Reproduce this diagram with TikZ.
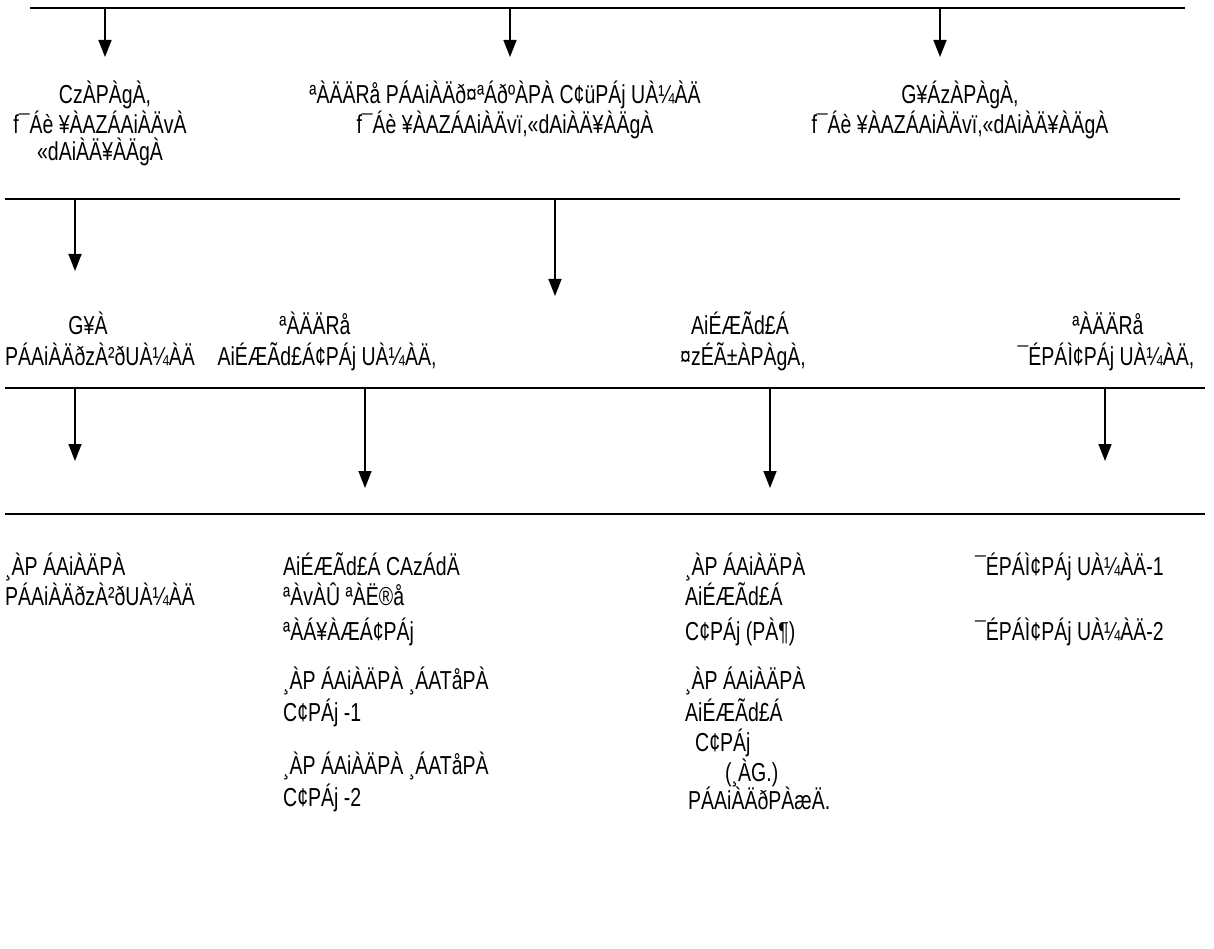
\documentclass[tikz,border=0pt]{standalone}
\usepackage{fontspec}
\setmainfont{Liberation Sans}[FakeStretch=0.75]
\usetikzlibrary{arrows.meta}
\begin{document}
\begin{tikzpicture}[x=1pt,y=-1pt,
  rule/.style={line width=1.6pt},
  arr/.style={line width=1.6pt,-{Triangle[length=17pt,width=13pt]}},
  lbl/.style={inner sep=0pt,font=\fontsize{26}{30}\selectfont},
  lbc/.style={lbl,anchor=base},
  lbw/.style={lbl,anchor=base west}]
\useasboundingbox (0,0) rectangle (1214,949);
% horizontal rules
\coordinate (h1a) at (30,8);   \coordinate (h1b) at (1185,8);
\coordinate (h2a) at (5,199);  \coordinate (h2b) at (1180,199);
\coordinate (h3a) at (5,388);  \coordinate (h3b) at (1205,388);
\coordinate (h4a) at (5,514);  \coordinate (h4b) at (1205,514);
\draw[rule] (h1a) -- (h1b);
\draw[rule] (h2a) -- (h2b);
\draw[rule] (h3a) -- (h3b);
\draw[rule] (h4a) -- (h4b);
% arrows
\coordinate (s1) at (105,8);   \coordinate (t1) at (105,57);
\coordinate (s2) at (510,8);   \coordinate (t2) at (510,57);
\coordinate (s3) at (940,8);   \coordinate (t3) at (940,57);
\coordinate (s4) at (75,199);  \coordinate (t4) at (75,271);
\coordinate (s5) at (555,199); \coordinate (t5) at (555,296);
\coordinate (s6) at (75,388);  \coordinate (t6) at (75,461);
\coordinate (s7) at (365,388); \coordinate (t7) at (365,488);
\coordinate (s8) at (770,388); \coordinate (t8) at (770,488);
\coordinate (s9) at (1105,388);\coordinate (t9) at (1105,461);
\foreach \i in {1,...,9} {\draw[arr] (s\i) -- (t\i);}
% row 1
\node[lbc] (a1) at (105,104) {CzÀPÀgÀ,};
\node[lbc] (a2) at (100,134) {f¯Áè ¥ÀAZÁAiÀÄvÀ};
\node[lbc] (a3) at (100,161) {«dAiÀÄ¥ÀÄgÀ};
\node[lbc] (b1) at (505,104) {ªÀÄÄRå PÁAiÀÄð¤ªÁðºÀPÀ C¢üPÁj UÀ¼ÀÄ};
\node[lbc] (b2) at (505,134) {f¯Áè ¥ÀAZÁAiÀÄvï,«dAiÀÄ¥ÀÄgÀ};
\node[lbc] (c1) at (960,104) {G¥ÁzÀPÀgÀ,};
\node[lbc] (c2) at (960,134) {f¯Áè ¥ÀAZÁAiÀÄvï,«dAiÀÄ¥ÀÄgÀ};
% row 2
\node[lbc] (d1) at (88,334) {G¥À};
\node[lbw] (d2) at (5,365) {PÁAiÀÄðzÀ²ðUÀ¼ÀÄ};
\node[lbc] (e1) at (315,334) {ªÀÄÄRå};
\node[lbc] (e2) at (327,365) {AiÉÆÃd£Á¢PÁj UÀ¼ÀÄ,};
\node[lbc] (f1) at (740,334) {AiÉÆÃd£Á};
\node[lbc] (f2) at (743,365) {¤zÉÃ±ÀPÀgÀ,};
\node[lbc] (g1) at (1108,334) {ªÀÄÄRå};
\node[lbc] (g2) at (1106,365) {¯ÉPÁÌ¢PÁj UÀ¼ÀÄ,};
% row 3, column 1
\node[lbw] (h1) at (5,575) {¸ÀP ÁAiÀÄPÀ};
\node[lbw] (h2) at (5,605) {PÁAiÀÄðzÀ²ðUÀ¼ÀÄ};
% row 3, column 2
\node[lbw] (i1) at (283,575) {AiÉÆÃd£Á CAzÁdÄ};
\node[lbw] (i2) at (283,605) {ªÀvÀÛ ªÀË®å};
\node[lbw] (i3) at (283,640) {ªÀÁ¥ÀÆÁ¢PÁj};
\node[lbw] (i4) at (283,689) {¸ÀP ÁAiÀÄPÀ ¸ÁATåPÀ};
\node[lbw] (i5) at (283,721) {C¢PÁj -1};
\node[lbw] (i6) at (283,774) {¸ÀP ÁAiÀÄPÀ ¸ÁATåPÀ};
\node[lbw] (i7) at (283,806) {C¢PÁj -2};
% row 3, column 3
\node[lbw] (j1) at (685,575) {¸ÀP ÁAiÀÄPÀ};
\node[lbw] (j2) at (685,605) {AiÉÆÃd£Á};
\node[lbw] (j3) at (685,640) {C¢PÁj (PÀ¶)};
\node[lbw] (j4) at (685,689) {¸ÀP ÁAiÀÄPÀ};
\node[lbw] (j5) at (685,721) {AiÉÆÃd£Á};
\node[lbw] (j6) at (695,751) {C¢PÁj};
\node[lbw] (j7) at (725,781) {(¸ÀG.)};
\node[lbw] (j8) at (688,809) {PÁAiÀÄðPÀæÄ.};
% row 3, column 4
\node[lbw] (k1) at (975,575) {¯ÉPÁÌ¢PÁj UÀ¼ÀÄ-1};
\node[lbw] (k2) at (975,640) {¯ÉPÁÌ¢PÁj UÀ¼ÀÄ-2};
\end{tikzpicture}
\end{document}
